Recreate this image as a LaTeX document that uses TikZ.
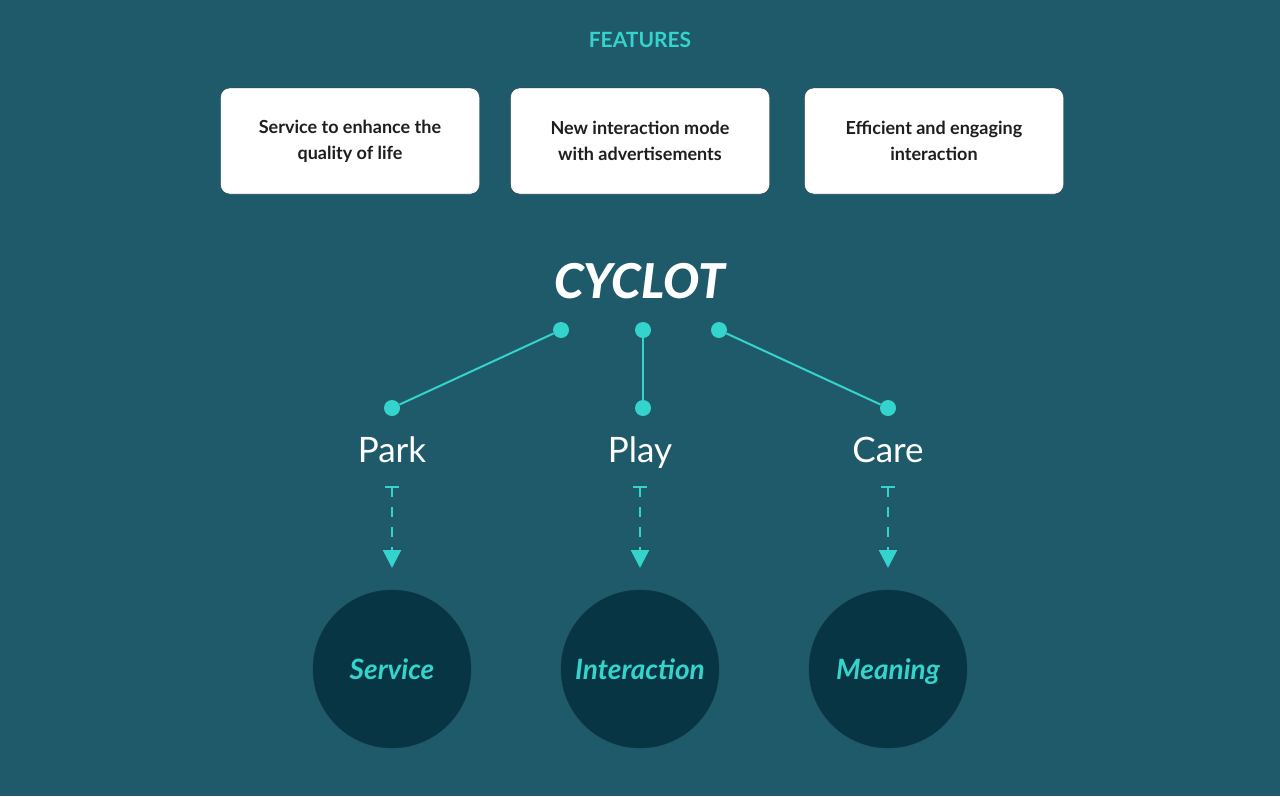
\documentclass[tikz,border=0pt]{standalone}
\usepackage{fontspec}
\setmainfont{Lato}
\newfontfamily\heavyfont{Lato Black Italic}
\usetikzlibrary{arrows.meta}
\definecolor{bg}{HTML}{1F5A6B}
\definecolor{teal}{HTML}{34D3CB}
\definecolor{dark}{HTML}{083544}
\definecolor{txt}{HTML}{1E1E1E}
\begin{document}
\begin{tikzpicture}[x=1pt,y=-1pt,
  box/.style={draw=bg!60!black,fill=white,rounded corners=9pt,minimum width=259pt,minimum height=106pt,align=center,text=txt,font=\fontsize{18}{26}\selectfont\bfseries},
  dot/.style={circle,fill=teal,inner sep=0pt,minimum size=16pt},
  link/.style={teal,line width=2pt},
  word/.style={text=white,anchor=base,font=\fontsize{35}{40}\selectfont},
  big/.style={circle,fill=dark,draw=bg!60!black,minimum size=158pt,inner sep=0pt,text=teal,font=\fontsize{28}{32}\selectfont\bfseries\itshape},
  flow/.style={teal,line width=2.5pt,dash pattern=on 10pt off 10pt,-{Triangle[width=18pt,length=18pt]}}]
\fill[bg] (0,0) rectangle (1280,796);
\useasboundingbox (0,0) rectangle (1280,796);
\node[text=teal,font=\fontsize{21}{24}\selectfont\bfseries] (feat) at (640,40) {FEATURES};
\node[box] (b1) at (350,141) {Service to enhance the\\quality of life};
\node[box] (b2) at (640,141) {New interaction mode\\with advertisements};
\node[box] (b3) at (934,141) {Efficient and engaging\\interaction};
\node[text=white,anchor=base,font=\fontsize{48}{52}\heavyfont] (cy) at (640,298) {CYCLOT};
\node[dot] (t1) at (561,330) {};
\node[dot] (t2) at (643,330) {};
\node[dot] (t3) at (719,330) {};
\node[dot] (d1) at (392,408) {};
\node[dot] (d2) at (643,408) {};
\node[dot] (d3) at (888,408) {};
\draw[link] (t1) -- (d1);
\draw[link] (t2) -- (d2);
\draw[link] (t3) -- (d3);
\node[word] (park) at (392,462) {Park};
\node[word] (play) at (640,462) {Play};
\node[word] (care) at (888,462) {Care};
\foreach \x/\n in {392/a,640/b,888/c}{
  \coordinate (s\n) at (\x,487);
  \coordinate (e\n) at (\x,568);
  \draw[teal,line width=2.5pt] (\x-7,487) -- (\x+7,487);
  \draw[flow] (s\n) -- (e\n);
}
\node[big,text depth=0pt,text height=20pt] (c1) at (392,669) {Service};
\node[big,text depth=0pt,text height=20pt] (c2) at (640,669) {Interaction};
\node[big,text depth=0pt,text height=20pt] (c3) at (888,669) {Meaning};
\end{tikzpicture}
\end{document}
